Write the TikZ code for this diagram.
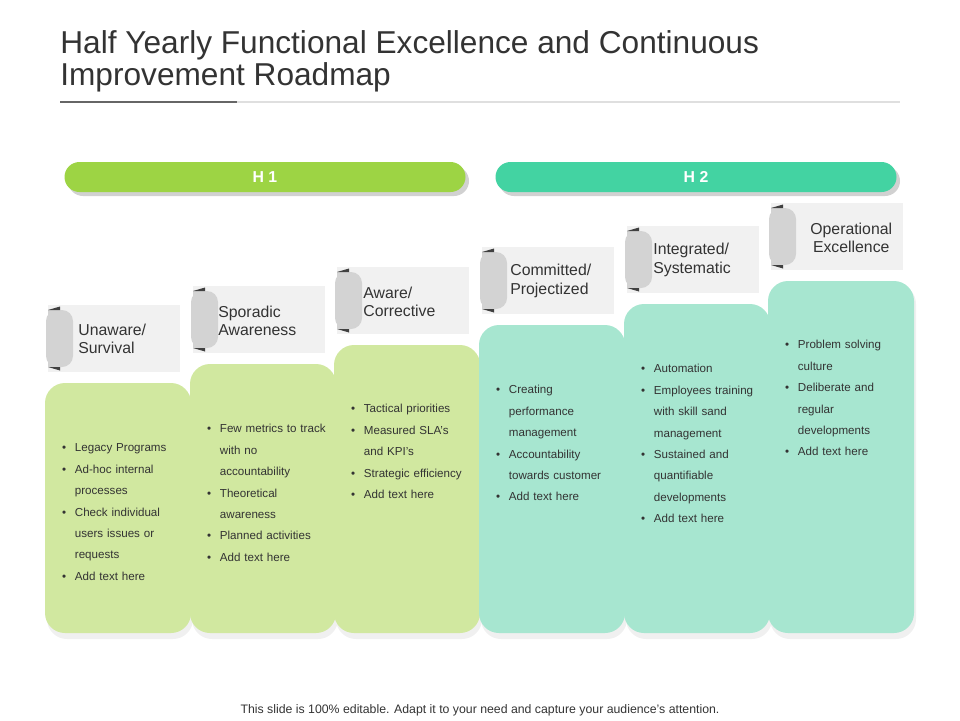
\documentclass[tikz,border=0pt]{standalone}
\usepackage{fontspec}
\setmainfont{Liberation Sans}
\usepackage{enumitem}
\usepackage{xcolor}
\definecolor{hgreen}{HTML}{9DD444}
\definecolor{hteal}{HTML}{43D3A2}
\definecolor{cgreen}{HTML}{D1E8A0}
\definecolor{cteal}{HTML}{A7E6D0}
\definecolor{lblbg}{HTML}{F1F1F1}
\definecolor{tabbg}{HTML}{D3D3D3}
\definecolor{txt}{HTML}{333333}
\newcommand{\cardlist}[1]{\begin{itemize}[leftmargin=10pt,labelsep=5pt,nosep,itemsep=0pt]#1\end{itemize}}
\tikzset{
  phasebar/.style={rounded corners=0.3cm, minimum width=8.02cm, minimum height=0.6cm, inner sep=0pt, text=white, font=\bfseries\fontsize{9}{10}\selectfont},
  cardtext/.style={anchor=north west, text width=2.5cm, inner sep=0pt, text=txt, font=\fontsize{6.6}{12.2}\selectfont},
  lbltext/.style={anchor=west, align=left, inner sep=0pt, text=txt, font=\fontsize{9}{10.6}\selectfont},
}
\begin{document}
\begin{tikzpicture}
\useasboundingbox (0,0) rectangle (19.2,-14.4);

% title
\node[anchor=north west, align=left, inner sep=0pt, text=txt, font=\fontsize{18}{18.5}\selectfont] (title) at (1.2,-0.6)
  {Half Yearly Functional Excellence and Continuous\\Improvement Roadmap};
\draw[gray!25, line width=0.6pt] (4.74,-2.04) -- (18.0,-2.04);
\draw[gray!80!black, line width=1.5pt] (1.2,-2.04) -- (4.74,-2.04);

% phase bars
\fill[black!18, rounded corners=0.3cm] (1.36,-3.32) rectangle (9.38,-3.92);
\fill[black!18, rounded corners=0.3cm] (9.98,-3.32) rectangle (18.0,-3.92);
\node[phasebar, fill=hgreen] (h1) at (5.3,-3.54) {H 1};
\node[phasebar, fill=hteal] (h2) at (13.92,-3.54) {H 2};

% columns: x-left, card top, colour
\foreach \n/\x/\t/\c in {1/0.9/7.66/cgreen, 2/3.8/7.28/cgreen, 3/6.68/6.9/cgreen,
    4/9.58/6.5/cteal, 5/12.48/6.08/cteal, 6/15.36/5.62/cteal}{
  % card
  \fill[black!6, rounded corners=0.4cm] (\x+0.04,-\t-0.06) rectangle (\x+2.96,-12.78);
  \fill[\c, rounded corners=0.4cm] (\x,-\t) rectangle (\x+2.92,-12.66);
  % label box
  \fill[lblbg] (\x+0.06,-\t+1.56) rectangle (\x+2.7,-\t+0.22);
  \fill[tabbg, rounded corners=0.22cm] (\x+0.02,-\t+1.46) rectangle (\x+0.56,-\t+0.32);
  \fill[tabbg] (\x+0.06,-\t+1.46) rectangle (\x+0.3,-\t+0.32);
  \fill[black!75] (\x+0.06,-\t+1.46) -- (\x+0.3,-\t+1.46) -- (\x+0.3,-\t+1.53) -- cycle;
  \fill[black!75] (\x+0.06,-\t+0.32) -- (\x+0.3,-\t+0.32) -- (\x+0.3,-\t+0.25) -- cycle;
}
\node[lbltext] (l1) at (1.56,-6.78) {Unaware/\\Survival};
\node[lbltext] (l2) at (4.36,-6.42) {Sporadic\\Awareness};
\node[lbltext] (l3) at (7.26,-6.04) {Aware/\\Corrective};
\node[lbltext] (l4) at (10.2,-5.62) {Committed/\\Projectized};
\node[lbltext, align=center] (l6) at (16.2,-4.76) {Operational\\Excellence};
\node[lbltext] (l5) at (13.06,-5.2) {Integrated/\\Systematic};

% card texts
\node[cardtext] (t1) at (1.14,-8.6) {\cardlist{\item Legacy Programs \item Ad-hoc internal processes \item Check individual users issues or requests \item Add text here}};
\node[cardtext] (t2) at (4.04,-8.22) {\cardlist{\item Few metrics to track with no accountability \item Theoretical awareness \item Planned activities \item Add text here}};
\node[cardtext] (t3) at (6.92,-7.82) {\cardlist{\item Tactical priorities \item Measured SLA’s and KPI’s \item Strategic efficiency \item Add text here}};
\node[cardtext] (t4) at (9.82,-7.44) {\cardlist{\item Creating performance management \item Accountability towards customer \item Add text here}};
\node[cardtext] (t5) at (12.72,-7.02) {\cardlist{\item Automation \item Employees training with skill sand management \item Sustained and quantifiable developments \item Add text here}};
\node[cardtext] (t6) at (15.6,-6.54) {\cardlist{\item Problem solving culture \item Deliberate and regular developments \item Add text here}};

% footer
\node[text=txt, font=\fontsize{7}{8}\selectfont] (foot) at (9.6,-14.2) {This slide is 100\% editable. Adapt it to your need and capture your audience’s attention.};
\end{tikzpicture}
\end{document}
